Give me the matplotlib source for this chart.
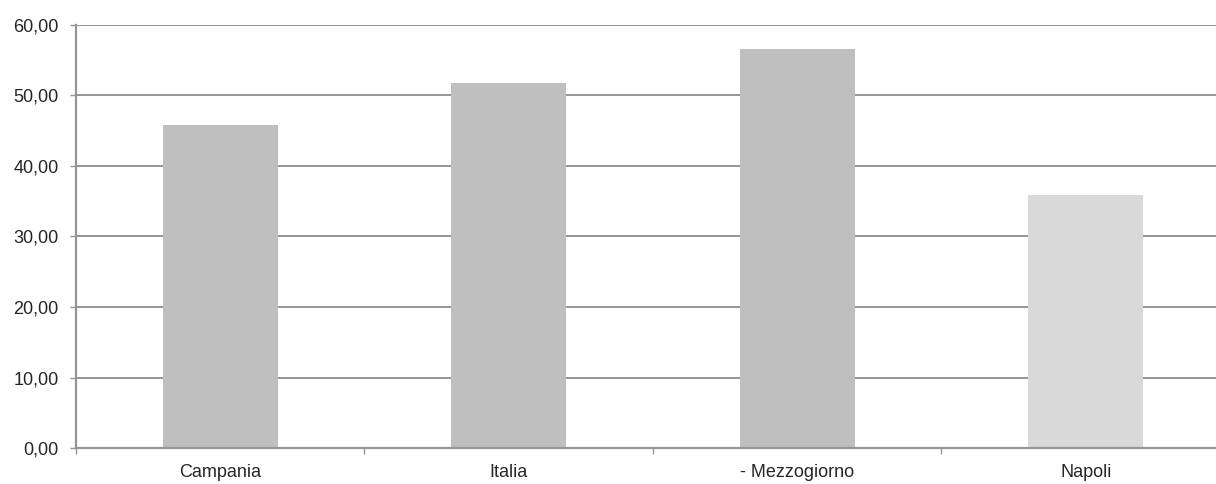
import matplotlib.pyplot as plt
import numpy as np
from matplotlib.ticker import FuncFormatter

plt.rcParams["font.family"] = ["Liberation Sans Narrow", "Liberation Sans", "DejaVu Sans"]

categories = ["Campania", "Italia", "- Mezzogiorno", "Napoli"]
values = [45.75, 51.75, 56.5, 35.9]
colours = ["#bfbfbf", "#bfbfbf", "#bfbfbf", "#d9d9d9"]
yticks = [0, 10, 20, 30, 40, 50, 60]

grid_colour = "#959595"

fig = plt.figure(figsize=(12.16, 4.84), dpi=100)
# plot area runs slightly past the right edge of the figure
ax = fig.add_axes([0.0625, 0.0738, 0.949, 0.8752])

x = np.arange(len(categories))
ax.bar(x, values, width=0.40, color=colours, zorder=2)

ax.set_xlim(-0.5, len(categories) - 0.5)
ax.set_ylim(0, 60)
ax.set_yticks(yticks)
ax.yaxis.set_major_formatter(FuncFormatter(lambda v, _: f"{v:.2f}".replace(".", ",")))
ax.grid(axis="y", color=grid_colour, linewidth=1.4, zorder=1)

# category labels centred, tick marks at category boundaries
ax.set_xticks(x)
ax.set_xticklabels(categories)
ax.tick_params(axis="x", length=0, pad=11, labelsize=13, labelcolor="#262626")
ax.set_xticks(np.arange(len(categories) + 1) - 0.5, minor=True)
ax.tick_params(axis="x", which="minor", length=4.5, color=grid_colour, width=1)
ax.tick_params(axis="y", length=4.5, color=grid_colour, width=1, labelsize=13,
               labelcolor="#262626", pad=8)

for side in ("top", "right"):
    ax.spines[side].set_visible(False)
ax.spines["left"].set_color(grid_colour)
ax.spines["left"].set_linewidth(1.6)
ax.spines["bottom"].set_color(grid_colour)
ax.spines["bottom"].set_linewidth(1.6)

plt.savefig("out.png", dpi=100)
